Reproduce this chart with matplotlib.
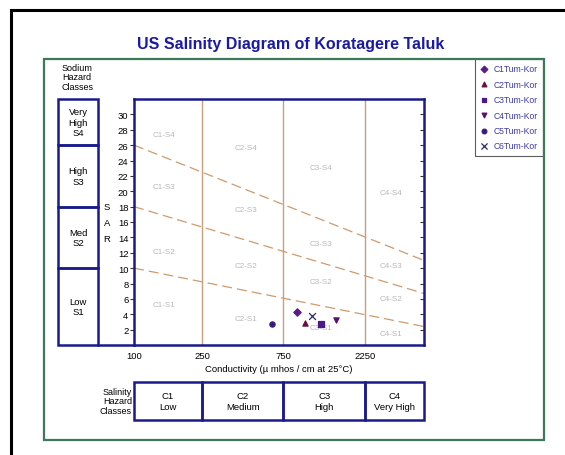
import numpy as np
import matplotlib
matplotlib.use("Agg")
import matplotlib.pyplot as plt
from matplotlib.lines import Line2D
from matplotlib.patches import Rectangle

plt.rcParams['font.family'] = ['Liberation Sans', 'DejaVu Sans']

# sample data (EC in micromhos/cm, SAR)
samples = ["C1Tum-Kor", "C2Tum-Kor", "C3Tum-Kor", "C4Tum-Kor", "C5Tum-Kor", "C6Tum-Kor"]
ec = [900, 1010, 1240, 1530, 640, 1100]
sar = [4.3, 2.9, 2.7, 3.2, 2.7, 3.8]
markers = ["D", "^", "s", "v", "o", "x"]
colors = ["#5a1a8a", "#6a1040", "#4a1a8a", "#5a1070", "#3a1a7a", "#2a2a6a"]

# class boundaries
ec_bounds = [100, 250, 750, 2250, 5000]
sar_bounds = [0, 10, 18, 26, 32]
# sodium hazard dividing lines: SAR at EC=100 and EC=5000
line_start = [10, 18, 26]
line_end = [2.4, 6.7, 11.0]

sal_classes = ["C1\nLow", "C2\nMedium", "C3\nHigh", "C4\nVery High"]
sod_classes = ["Low\nS1", "Med\nS2", "High\nS3", "Very\nHigh\nS4"]

# zone labels
zone_names = ["C1-S4", "C1-S3", "C1-S2", "C1-S1",
              "C2-S4", "C2-S3", "C2-S2", "C2-S1",
              "C3-S4", "C3-S3", "C3-S2", "C3-S1",
              "C4-S4", "C4-S3", "C4-S2", "C4-S1"]
zone_ec = [150] * 4 + [455] * 4 + [1250] * 4 + [3200] * 4
zone_sar = [27.4, 20.6, 12.2, 5.3,
            25.7, 17.6, 10.3, 3.4,
            23.1, 13.2, 8.2, 2.3,
            19.9, 10.3, 6.0, 1.5]

W, H = 565, 456
fig = plt.figure(figsize=(W / 100, H / 100), dpi=100)

def px(x0, y0, x1, y1):
    return [x0 / W, 1 - y1 / H, (x1 - x0) / W, (y1 - y0) / H]

navy = "#1a1a8c"
tan = "#c8a07a"

# outer borders
fig.add_artist(Line2D([11 / W, 1], [1 - 11 / H] * 2, color="black", lw=2.2))
fig.add_artist(Line2D([11 / W] * 2, [0, 1 - 11 / H], color="black", lw=2.2))
fig.add_artist(Rectangle((44 / W, 1 - 441 / H), 500 / W, 381 / H, fill=False,
                         edgecolor="#3a7a5a", lw=1.6))

fig.text(291 / W, 1 - 45 / H, "US Salinity Diagram of Koratagere Taluk",
         ha="center", va="center", fontsize=11.5, fontweight="bold", color="#1a1aa8")

# main axes
ax = fig.add_axes(px(134, 100, 424, 346))
ax.set_xscale("log")
ax.set_xlim(ec_bounds[0], ec_bounds[-1])
ax.set_ylim(sar_bounds[0], sar_bounds[-1])
for s in ax.spines.values():
    s.set_color(navy)
    s.set_linewidth(1.8)
ax.set_xticks(ec_bounds[:-1])
ax.set_xticklabels([str(v) for v in ec_bounds[:-1]])
ax.xaxis.set_minor_locator(plt.NullLocator())
ax.tick_params(axis="x", length=0, labelsize=6.8, pad=4)
ax.set_yticks(np.arange(2, 31, 2))
ax.tick_params(axis="y", which="major", direction="out", length=3, width=0.8,
               color="#333333", labelsize=6.8, pad=1)
ax.set_xlabel("Conductivity (\u00b5 mhos / cm at 25\u00b0C)", fontsize=6.8, labelpad=3)

# inward ticks on the right side
ax2 = ax.twinx()
ax2.set_ylim(sar_bounds[0], sar_bounds[-1])
ax2.set_yticks(np.arange(2, 31, 2))
ax2.tick_params(axis="y", direction="in", length=3, width=0.8, color="#333333",
                labelright=False)
for s in ax2.spines.values():
    s.set_visible(False)

for b in ec_bounds[1:-1]:
    ax.axvline(b, color=tan, lw=1.0)
for a, b in zip(line_start, line_end):
    ax.plot([ec_bounds[0], ec_bounds[-1]], [a, b], color="#d09a6a", lw=0.9,
            ls=(0, (8, 4)))
for name, x, y in zip(zone_names, zone_ec, zone_sar):
    ax.text(x, y, name, fontsize=5.8, color="#b8b8b8", ha="center", va="center")

for i in range(len(samples)):
    ax.scatter(ec[i], sar[i], marker=markers[i], color=colors[i],
               s=14 if markers[i] != "x" else 24, lw=0.9, zorder=5, label=samples[i])

ax.text(-0.093, 0.50, "S\nA\nR", transform=ax.transAxes, fontsize=6.8,
        ha="center", va="center", linespacing=2.0)

# sodium hazard boxes
axs = fig.add_axes(px(58, 100, 98, 346))
axs.set_ylim(sar_bounds[0], sar_bounds[-1])
axs.set_xlim(0, 1)
axs.axis("off")
for i, lab in enumerate(sod_classes):
    lo, hi = sar_bounds[i], sar_bounds[i + 1]
    axs.add_patch(Rectangle((0, lo), 1, hi - lo, fill=False, edgecolor=navy,
                            lw=1.8, clip_on=False))
    axs.text(0.5, (lo + hi) / 2, lab, ha="center", va="center", fontsize=6.8)
fig.add_artist(Line2D([98 / W, 134 / W], [1 - 346 / H] * 2, color=navy, lw=1.8))
fig.text(62 / W, 1 - 78 / H, "Sodium\nHazard\nClasses", fontsize=6.5,
         ha="left", va="center", linespacing=1.1)

# salinity hazard boxes
axc = fig.add_axes(px(134, 383, 424, 421))
axc.set_xscale("log")
axc.set_xlim(ec_bounds[0], ec_bounds[-1])
axc.set_ylim(0, 1)
axc.axis("off")
for i, lab in enumerate(sal_classes):
    lo, hi = ec_bounds[i], ec_bounds[i + 1]
    axc.add_patch(Rectangle((lo, 0), hi - lo, 1, fill=False, edgecolor=navy,
                            lw=1.8, clip_on=False))
    axc.text(np.sqrt(lo * hi), 0.5, lab, ha="center", va="center", fontsize=6.8)
fig.text(132 / W, 1 - 402 / H, "Salinity\nHazard\nClasses", fontsize=6.5,
         ha="right", va="center", linespacing=1.1)

h, l = ax.get_legend_handles_labels()
leg = ax2.legend(h, l, loc="upper right", bbox_to_anchor=(543 / W, 1 - 60 / H),
                 bbox_transform=fig.transFigure, fontsize=6.2, frameon=True,
                 fancybox=False, edgecolor="#333333", handletextpad=0.6,
                 handlelength=1.0, borderpad=0.6, labelspacing=0.75,
                 borderaxespad=0, markerscale=0.9)
leg.get_frame().set_linewidth(0.8)
for t in leg.get_texts():
    t.set_color("#3a3aa8")

fig.savefig("out.png", dpi=100)
